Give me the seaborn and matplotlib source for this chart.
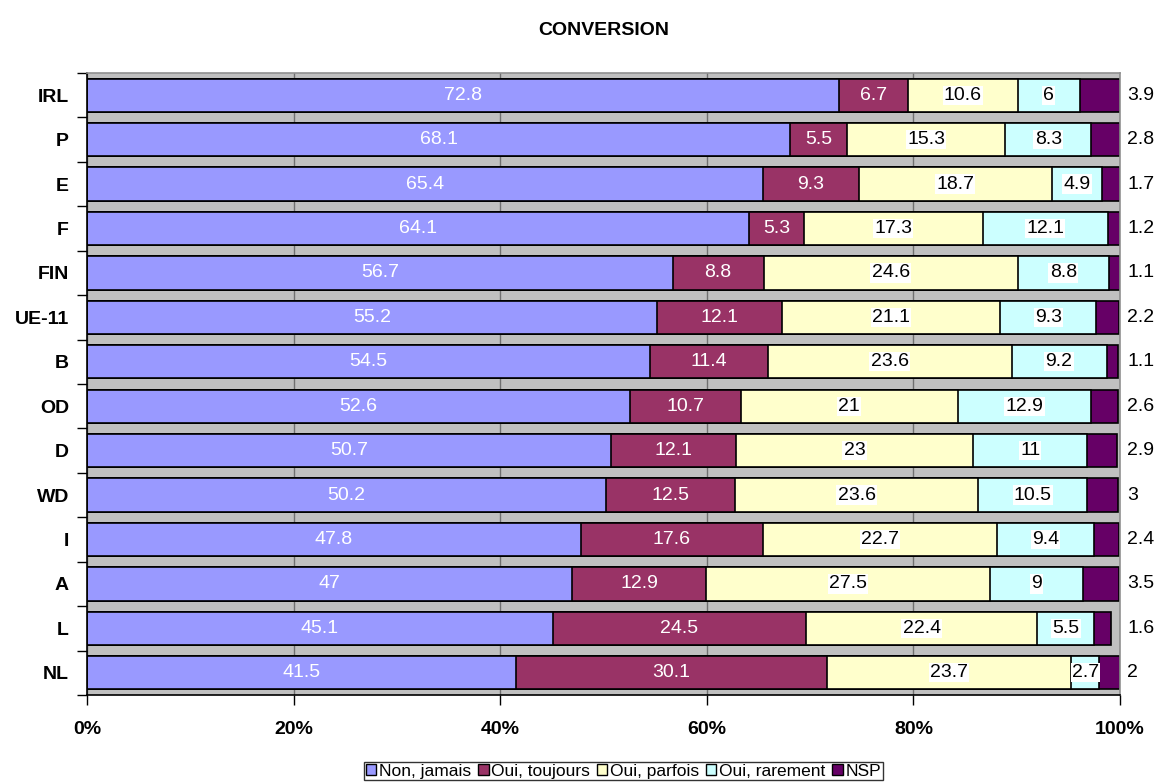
import numpy as np
import pandas as pd
import matplotlib
matplotlib.use('Agg')
import matplotlib.pyplot as plt
from matplotlib.patches import Patch
import seaborn as sns

# data, top to bottom
pays = ['IRL', 'P', 'E', 'F', 'FIN', 'UE-11', 'B', 'OD', 'D', 'WD', 'I', 'A', 'L', 'NL']
non_jamais = [72.8, 68.1, 65.4, 64.1, 56.7, 55.2, 54.5, 52.6, 50.7, 50.2, 47.8, 47, 45.1, 41.5]
oui_toujours = [6.7, 5.5, 9.3, 5.3, 8.8, 12.1, 11.4, 10.7, 12.1, 12.5, 17.6, 12.9, 24.5, 30.1]
oui_parfois = [10.6, 15.3, 18.7, 17.3, 24.6, 21.1, 23.6, 21, 23, 23.6, 22.7, 27.5, 22.4, 23.7]
oui_rarement = [6, 8.3, 4.9, 12.1, 8.8, 9.3, 9.2, 12.9, 11, 10.5, 9.4, 9, 5.5, 2.7]
nsp = [3.9, 2.8, 1.7, 1.2, 1.1, 2.2, 1.1, 2.6, 2.9, 3, 2.4, 3.5, 1.6, 2]
series = ['Non, jamais', 'Oui, toujours', 'Oui, parfois', 'Oui, rarement', 'NSP']
colors = ['#9999FF', '#993366', '#FFFFCC', '#CCFFFF', '#660066']

sns.set_theme(style='white')
plt.rcParams['font.family'] = ['Liberation Sans', 'DejaVu Sans']
plt.rcParams['text.color'] = 'black'
plt.rcParams['xtick.color'] = 'black'
plt.rcParams['ytick.color'] = 'black'
plt.rcParams['axes.labelcolor'] = 'black'

df = pd.DataFrame({'pays': pays, series[0]: non_jamais, series[1]: oui_toujours,
                   series[2]: oui_parfois, series[3]: oui_rarement, series[4]: nsp})
cum = df[series].cumsum(axis=1)

fig = plt.figure(figsize=(11.61, 7.82), dpi=100)
ax = fig.add_axes([0.0749, 0.1113, 0.8898, 0.7954])
ax.set_facecolor('#C0C0C0')

# stacked bars: longest cumulative first, shorter ones on top
for s, c in zip(series[::-1], colors[::-1]):
    sns.barplot(x=cum[s], y=df['pays'], orient='h', color=c, saturation=1, width=0.75,
                edgecolor='black', linewidth=1.2, ax=ax, zorder=2)

ax.set_xlim(0, 100)
ax.set_ylim(len(pays) - 0.5, -0.5)
ax.set_xlabel('')
ax.set_ylabel('')

# grid
ax.set_axisbelow(True)
ax.set_xticks([0, 20, 40, 60, 80, 100])
ax.set_xticklabels(['0%', '20%', '40%', '60%', '80%', '100%'], fontsize=14, fontweight='bold')
ax.xaxis.grid(True, color='#707070', linewidth=1)
ax.yaxis.grid(False)
ax.tick_params(axis='x', which='major', bottom=True, length=7, width=1, color='black', pad=12)

# y ticks at boundaries, labels at centres
ax.set_yticks(np.arange(len(pays) + 1) - 0.5)
ax.set_yticklabels([])
ax.set_yticks(np.arange(len(pays)), minor=True)
ax.set_yticklabels(pays, minor=True, fontsize=14, fontweight='bold')
ax.tick_params(axis='y', which='major', left=True, length=7, width=1, color='black')
ax.tick_params(axis='y', which='minor', left=False, length=0, pad=13)

for side in ['left', 'bottom']:
    ax.spines[side].set_color('black')
    ax.spines[side].set_linewidth(1.2)
for side in ['top', 'right']:
    ax.spines[side].set_color('#909090')
    ax.spines[side].set_linewidth(1.2)

# value labels
for i in range(len(pays)):
    left = 0
    for k, s in enumerate(series):
        v = df[s].iloc[i]
        lab = f'{v:g}'
        if k < 2:
            ax.text(left + v / 2, i, lab, ha='center', va='center', fontsize=14,
                    color='white', zorder=5)
        elif k < 4:
            ax.text(left + v / 2, i, lab, ha='center', va='center', fontsize=14,
                    color='black', zorder=5,
                    bbox=dict(facecolor='white', edgecolor='none', pad=0.8))
        else:
            ax.text(1.007, i, lab, transform=ax.get_yaxis_transform(), ha='left',
                    va='center', fontsize=14, color='black', clip_on=False)
        left += v

ax.set_title('CONVERSION', fontsize=14, fontweight='bold', pad=27, color='black')

handles = [Patch(facecolor=c, edgecolor='black', linewidth=1) for c in colors]
leg = fig.legend(handles, series, loc='lower center', bbox_to_anchor=(0.537, 0.0), ncol=5,
                 fontsize=12.5, frameon=True, fancybox=False, handlelength=0.6,
                 handleheight=0.6, handletextpad=0.15, columnspacing=0.4,
                 borderpad=0.1, borderaxespad=0.1)
leg.get_frame().set_edgecolor('black')
leg.get_frame().set_linewidth(1)

plt.savefig('out.png', dpi=100)
